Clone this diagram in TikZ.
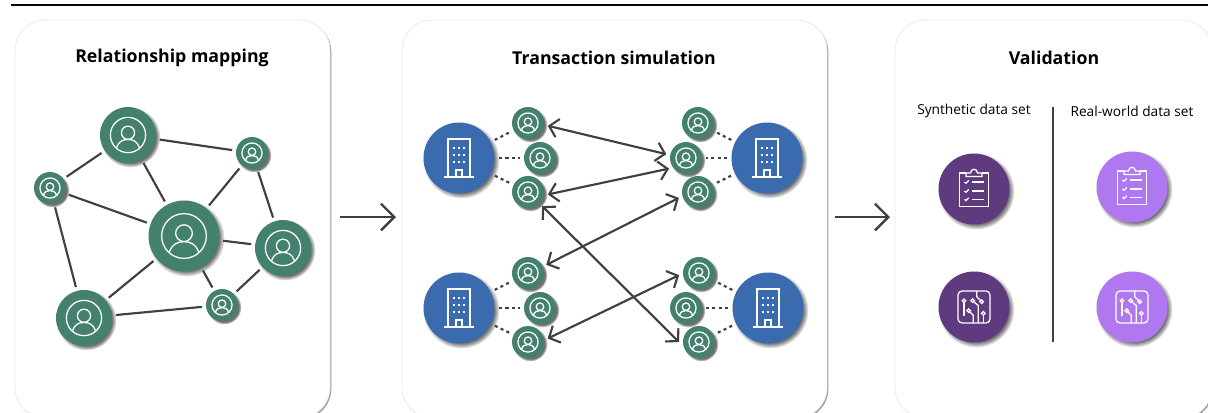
\documentclass[tikz,border=0pt]{standalone}
\usepackage{fontspec}
\setmainfont{Open Sans}
\usepackage{xcolor}
\usetikzlibrary{positioning,calc,arrows.meta,shadows}
\definecolor{figgreen}{RGB}{67,128,109}
\definecolor{figblue}{RGB}{58,107,174}
\definecolor{figpurpledark}{RGB}{96,58,126}
\definecolor{figpurplelight}{RGB}{176,120,240}
\definecolor{figline}{RGB}{64,64,64}
\tikzset{
  figtitle/.style={font=\fontsize{13.3}{17}\selectfont\bfseries, inner sep=0pt},
  figsubtitle/.style={font=\fontsize{10.3}{12}\selectfont, inner sep=0pt},
  figpanel/.style={draw=gray!15, line width=0.7pt, fill=white, rounded corners=23pt, inner sep=0pt,
    drop shadow={shadow xshift=1pt, shadow yshift=-1pt, fill=gray!90, opacity=0.9}},
  figsoftshadow/.style={circular drop shadow={shadow xshift=1.5pt, shadow yshift=-1.5pt, shadow scale=1.08, opacity=0.75, fill=black!75}},
  figdisc/.style={circle, inner sep=0pt, figsoftshadow},
  figperson/.style={figdisc, fill=figgreen, outer sep=3pt},
  figbuilding/.style={figdisc, fill=figblue, outer sep=3.4pt, minimum size=53.25pt},
  figdata/.style={figdisc, minimum size=53.25pt},
  figedge/.style={draw=figline, line width=1.6pt},
  figdotted/.style={draw=figline, line width=1.6pt, dash pattern=on 2.3pt off 2.5pt},
  figarrow/.style={draw=figline, line width=1.6pt, {Straight Barb[length=6.5pt, width=14pt]}-{Straight Barb[length=6.5pt, width=14pt]}},
  figarrowstrong/.style={draw=figline, line width=1.8pt, -{Straight Barb[length=10pt, width=20pt]}},
  figicon/.style={draw=white, line width=0.95pt},
  personicon/.pic={
    \draw[figicon] (0,0) circle (0.63);
    \draw[figicon] (0,-0.08) circle (0.235);
    \draw[figicon] (-0.41,0.45) .. controls (-0.33,0.22) and (-0.18,0.16) .. (0,0.16) .. controls (0.18,0.16) and (0.33,0.22) .. (0.41,0.45);
  },
  buildingicon/.pic={
    \draw[figicon] (-11,19) -- (-11,-19) -- (11,-19) -- (11,19);
    \draw[figicon] (-14.7,19) -- (14.7,19);
    \draw[figicon] (-3,19) -- (-3,12) -- (3,12) -- (3,19);
    \foreach \xx in {-4.7,0,4.7}
      \foreach \yy in {-9.7,-2.7,4.3}
        \fill[white] (\xx-0.9,\yy-0.9) rectangle (\xx+0.9,\yy+0.9);
  },
  clipboardicon/.pic={
    \draw[figicon] (-8,-16) -- (-14.5,-16) -- (-14.5,17.5) -- (14.5,17.5) -- (14.5,-16) -- (8,-16);
    \draw[figicon] (-8,-12.5) -- (-8,-16) -- (-3.5,-16) .. controls (-3,-21) and (3,-21) .. (3.5,-16) -- (8,-16) -- (8,-12.5) -- cycle;
    \foreach \yy in {-7,2,10.3} {
      \draw[figicon] (-9.5,\yy) -- (-8,\yy+1.3) -- (-5.3,\yy-1.6);
      \draw[figicon] (-2,\yy) -- (9.5,\yy);
    }
  },
  circuiticon/.pic={
    \draw[figicon, rounded corners=3pt] (-16,-16) rectangle (16,16);
    \draw[figicon] (-10,-6.3) circle (1.8);
    \draw[figicon] (-10,-4.5) -- (-10,9);
    \draw[figicon] (-1.3,-6.3) circle (1.8);
    \draw[figicon] (0,-5) -- (4.3,-1.5) -- (4.3,16);
    \draw[figicon] (2.7,-16) -- (2.7,-10.3) -- (6.4,-6.6);
    \draw[figicon] (7.7,-5.3) circle (1.8);
    \draw[figicon] (-5.3,3.7) circle (1.8);
    \draw[figicon] (-4,5) -- (-0.7,8.3) -- (-0.7,16);
    \draw[figicon] (9.3,6.3) circle (1.8);
    \draw[figicon] (9.3,8.1) -- (9.3,16);
  },
}
\begin{document}
\begin{tikzpicture}[x=0.75pt, y=-0.75pt]
	\path[use as bounding box, clip] (0,0) rectangle (1208,412);
	\coordinate (ruleleft) at (11,5);
	\coordinate (ruleright) at (1208,5);
	\draw[black, line width=1.8pt] (ruleleft) -- (ruleright);

	% Panels
	\node[figpanel, minimum width=236.25pt, minimum height=298.5pt] (panelmap) at (172.5,219) {};
	\node[figpanel, minimum width=318.75pt, minimum height=298.5pt] (panelsim) at (614.5,219) {};
	\node[figpanel, minimum width=237.75pt, minimum height=298.5pt] (panelval) at (1053.5,219) {};
	\node[figtitle] (titlemap) at (172,58) {Relationship mapping};
	\node[figtitle] (titlesim) at (614,58) {Transaction simulation};
	\node[figtitle] (titleval) at (1054,58) {Validation};

	% Flow arrows between panels
	\coordinate (flowastart) at (340,217);
	\coordinate (flowaend) at (396,217);
	\coordinate (flowbstart) at (835,217);
	\coordinate (flowbend) at (890,217);
	\draw[figarrowstrong] (flowastart) -- (flowaend);
	\draw[figarrowstrong] (flowbstart) -- (flowbend);

	% Left panel: relationship graph
	\foreach \name/\xx/\yy/\rad in {hub/184/236/35.5, mapnw/128/135/28, mapw/50/188/16, mapne/252/153/16,
		mape/283/248/28, mapsw/84/318/28, maps/222/305/16} {
		\node[figperson, minimum size=\rad*1.5pt] (\name) at (\xx,\yy) {};
		\pic[scale=\rad] at (\name) {personicon};
	}
	\draw[figedge] (mapnw) -- (mapw);
	\draw[figedge] (mapnw) -- (mapne);
	\draw[figedge] (mapnw) -- (hub);
	\draw[figedge] (mapw) -- (hub);
	\draw[figedge] (mapw) -- (mapsw);
	\draw[figedge] (mapne) -- (hub);
	\draw[figedge] (mapne) -- (mape);
	\draw[figedge] (hub) -- (mape);
	\draw[figedge] (hub) -- (mapsw);
	\draw[figedge] (hub) -- (maps);
	\draw[figedge] (mapsw) -- (maps);
	\draw[figedge] (maps) -- (mape);

	% Middle panel: four banks with three customers each
	\foreach \bank/\xb/\yb/\xin/\xout in {tl/459/158/540/528, tr/767/158/686/698, bl/459/308/540/528, br/768/308/686/699} {
		\node[figbuilding] (\bank) at (\xb,\yb) {};
		\pic at (\bank) {buildingicon};
		\node[figperson, minimum size=24pt] (\bank a) at (\xout,\yb-35) {};
		\node[figperson, minimum size=24pt] (\bank b) at (\xin,\yb) {};
		\node[figperson, minimum size=24pt] (\bank c) at (\xout,\yb+34) {};
		\foreach \who in {a,b,c} {
			\pic[scale=16] at (\bank\who) {personicon};
			\draw[figdotted] (\bank) -- (\bank\who);
		}
	}
	\draw[figarrow] (tla.-8) -- (trb.169);
	\draw[figarrow] (tlc.-7) -- (trb.212);
	\draw[figarrow] (bla.24) -- (trc.197);
	\draw[figarrow] (tlc.-45) -- (brc.180);
	\draw[figarrow] (blc.10) -- (bra.186);

	% Right panel: data sets
	\node[figsubtitle] (labelsyn) at (974,111) {Synthetic data set};
	\node[figsubtitle] (labelreal) at (1132,111) {Real-world data set};
	\coordinate (dividertop) at (1053,107);
	\coordinate (dividerbottom) at (1053,342);
	\draw[draw=figline, line width=1.5pt] (dividertop) -- (dividerbottom);
	\node[figdata, fill=figpurpledark] (synclip) at (974,189) {};
	\node[figdata, fill=figpurplelight] (realclip) at (1132,187) {};
	\node[figdata, fill=figpurpledark] (syncircuit) at (974,307) {};
	\node[figdata, fill=figpurplelight] (realcircuit) at (1132,307) {};
	\pic at (synclip) {clipboardicon};
	\pic at (realclip) {clipboardicon};
	\pic at (syncircuit) {circuiticon};
	\pic at (realcircuit) {circuiticon};
\end{tikzpicture}
\end{document}
